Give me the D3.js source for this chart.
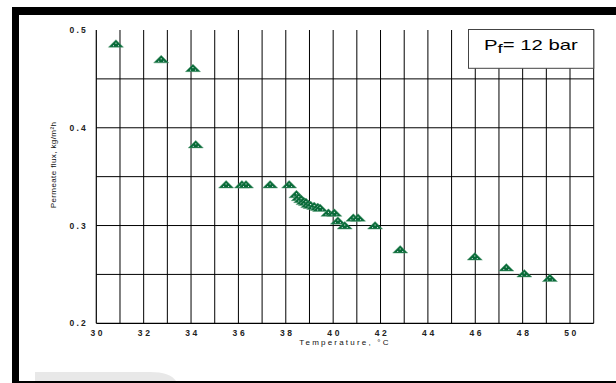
<!DOCTYPE html>
<style>
    body, html {
        margin: 0;
        padding: 0;
        background: #fff;
        overflow: hidden;
    }
</style>
<svg width="616" height="383"></svg>
<script src="https://d3js.org/d3.v7.min.js"></script>
<script>
    // values
    var temps = [30.83, 32.74, 34.08, 34.2, 35.48, 36.15, 36.32, 37.34, 38.14,
                 38.45, 38.55, 38.65, 38.75, 38.85, 38.95, 39.05, 39.2, 39.35, 39.45,
                 39.8, 40.05, 40.2, 40.49, 40.85, 41.05, 41.77, 42.83,
                 45.98, 47.31, 48.07, 49.15];
    var flux = [0.486, 0.470, 0.461, 0.383, 0.342, 0.342, 0.342, 0.342, 0.342,
                0.332, 0.329, 0.327, 0.325, 0.324, 0.322, 0.321, 0.320, 0.319, 0.318,
                0.313, 0.313, 0.305, 0.300, 0.308, 0.308, 0.300, 0.2755,
                0.2683, 0.257, 0.251, 0.2463];
    var xTicks = [30, 32, 34, 36, 38, 40, 42, 44, 46, 48, 50];
    var yTicks = [0.2, 0.3, 0.4, 0.5];
    var xGrid = d3.range(31, 52, 1);
    var yGrid = [0.25, 0.3, 0.35, 0.4, 0.45];

    var svg = d3.select("svg");
    var x = d3.scaleLinear().domain([30, 51]).range([96.3, 593.7]);
    var y = d3.scaleLinear().domain([0.2, 0.5]).range([323.3, 30]);

    // frame
    svg.append("rect").attr("x", 12).attr("y", 7).attr("width", 604).attr("height", 8).attr("fill", "#000");
    svg.append("rect").attr("x", 12).attr("y", 7).attr("width", 7).attr("height", 376).attr("fill", "#000");
    svg.append("rect").attr("x", 12).attr("y", 381).attr("width", 604).attr("height", 2).attr("fill", "#000");
    svg.append("path")
        .attr("d", "M35,381 L35,372 L150,372 Q170,372 176,381 Z")
        .attr("fill", "#e8e8e8");

    var g = svg.append("g");

    // grid
    g.append("g").selectAll("line").data(xGrid).enter().append("line")
        .attr("x1", function (d) { return x(d); })
        .attr("x2", function (d) { return x(d); })
        .attr("y1", y(0.5)).attr("y2", y(0.2))
        .attr("stroke", "#000").attr("stroke-width", 1);
    g.append("g").selectAll("line").data(yGrid).enter().append("line")
        .attr("x1", x(30)).attr("x2", x(51))
        .attr("y1", function (d) { return y(d); })
        .attr("y2", function (d) { return y(d); })
        .attr("stroke", "#000").attr("stroke-width", 1);
    // axes lines
    g.append("line").attr("x1", x(30)).attr("x2", x(30)).attr("y1", y(0.5)).attr("y2", y(0.2))
        .attr("stroke", "#000").attr("stroke-width", 1.2);
    g.append("line").attr("x1", x(30)).attr("x2", x(51)).attr("y1", y(0.2)).attr("y2", y(0.2))
        .attr("stroke", "#000").attr("stroke-width", 1.2);

    // tick labels
    g.append("g").selectAll("text").data(xTicks).enter().append("text")
        .attr("x", function (d) { return x(d) + 1.5; })
        .attr("y", 336)
        .attr("text-anchor", "middle")
        .attr("font-family", "Liberation Sans, sans-serif")
        .attr("font-size", 8.5)
        .attr("font-weight", "bold")
        .attr("fill", "#222")
        .attr("letter-spacing", 2.6)
        .text(function (d) { return d; });
    g.append("g").selectAll("text").data(yTicks).enter().append("text")
        .attr("x", 88)
        .attr("y", function (d) { return y(d) + 3; })
        .attr("text-anchor", "end")
        .attr("font-family", "Liberation Sans, sans-serif")
        .attr("font-size", 8.5)
        .attr("font-weight", "bold")
        .attr("fill", "#222")
        .attr("letter-spacing", 2.2)
        .text(function (d) { return d.toFixed(1); });

    // axis titles
    svg.append("text")
        .attr("x", 345).attr("y", 345)
        .attr("text-anchor", "middle")
        .attr("font-family", "Liberation Sans, sans-serif")
        .attr("font-size", 8)
        .attr("fill", "#111")
        .attr("letter-spacing", 2.2)
        .text("Temperature, °C");
    svg.append("text")
        .attr("transform", "translate(56,165) rotate(-90)")
        .attr("text-anchor", "middle")
        .attr("font-family", "Liberation Sans, sans-serif")
        .attr("font-size", 8)
        .attr("fill", "#111")
        .attr("letter-spacing", 0.4)
        .text("Permeate flux, kg/m²h");

    // markers
    var tri = "M-7.5,3.5 L0,-4 L7.5,3.5 Z";
    var pts = g.append("g").selectAll("g").data(temps).enter().append("g")
        .attr("transform", function (d, i) { return "translate(" + x(d) + "," + y(flux[i]) + ")"; });
    pts.append("path").attr("d", tri).attr("fill", "#086b38")
        .attr("stroke", "#5a9c78").attr("stroke-width", 0.5);
    pts.append("rect").attr("x", -0.5).attr("y", -1).attr("width", 1).attr("height", 1).attr("fill", "#fff");
    pts.append("rect").attr("x", -3).attr("y", 1.5).attr("width", 1).attr("height", 1).attr("fill", "#dde");
    pts.append("rect").attr("x", 2).attr("y", 1.5).attr("width", 1).attr("height", 1).attr("fill", "#dde");

    // legend box (text is stretched sideways in the original)
    svg.append("rect").attr("x", 468.5).attr("y", 29.5).attr("width", 125.2).attr("height", 38.8)
        .attr("fill", "#fff").attr("stroke", "#444").attr("stroke-width", 1);
    var lt = svg.append("text")
        .attr("transform", "translate(484,50) scale(1.45,1)")
        .attr("font-family", "Liberation Sans, sans-serif")
        .attr("font-size", 14);
    lt.append("tspan").text("P");
    lt.append("tspan").attr("dy", 3).attr("font-size", 13).text("f");
    lt.append("tspan").attr("dy", -3).text("= 12 bar");
</script>
